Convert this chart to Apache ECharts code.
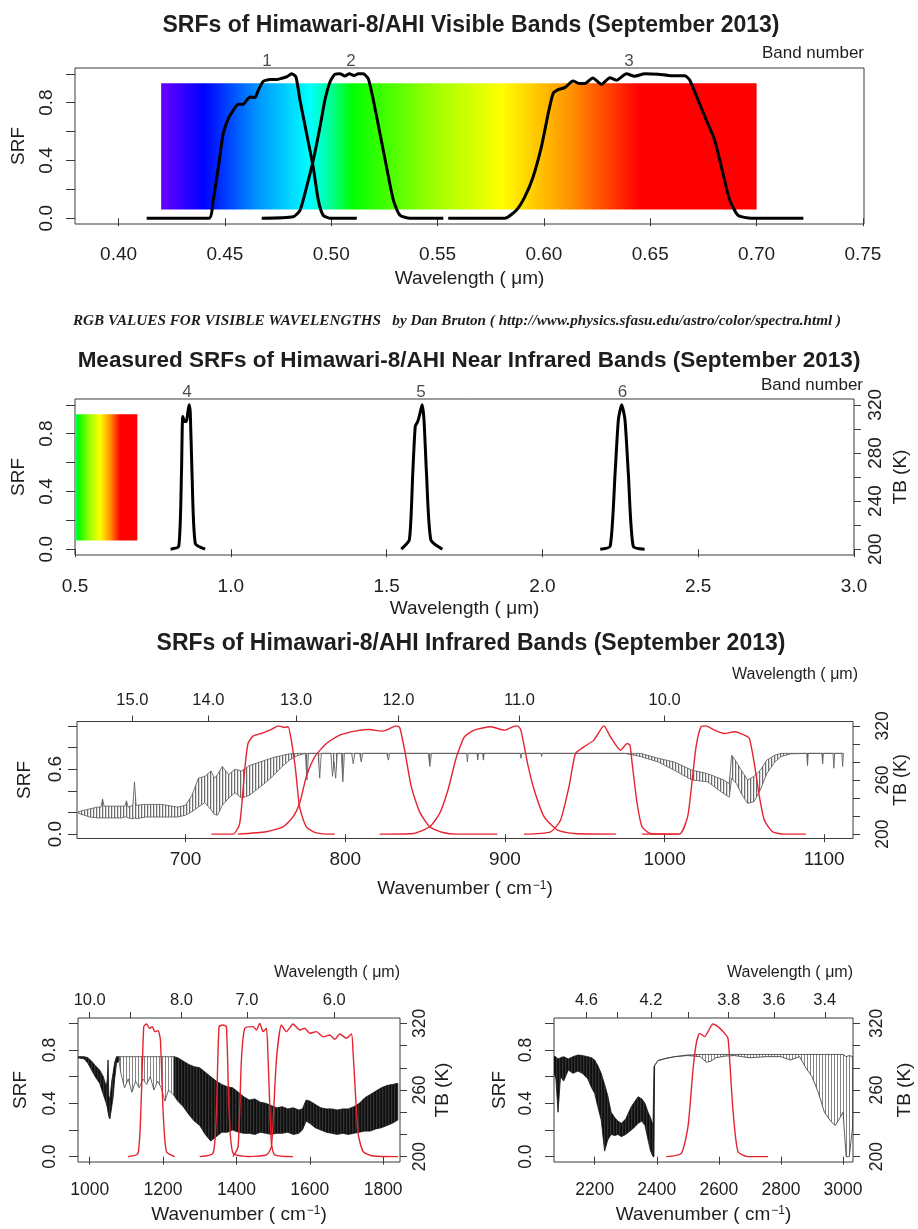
<!DOCTYPE html>
<html>
<head>
<meta charset="utf-8">
<title>SRFs of Himawari-8/AHI</title>
<script src="https://cdn.jsdelivr.net/npm/echarts@6/dist/echarts.min.js"></script>
<style>
  html, body { margin: 0; padding: 0; background: #fff; }
  #chart { width: 918px; height: 1229px; }
</style>
</head>
<body>
<div id="chart"></div>
<script>
// visible bands 1-3: wavelength (um) and SRF
const band1Wl = [0.4132, 0.4425, 0.4445, 0.4469, 0.4492, 0.4516, 0.4539, 0.4563, 0.4586, 0.4602, 0.4618, 0.4641, 0.4657, 0.468, 0.4712, 0.4743, 0.4767, 0.479, 0.4814, 0.4834, 0.4853, 0.4884, 0.4915, 0.4939, 0.4962, 0.4994, 0.512];
const band1Srf = [0, 0, 0.125, 0.355, 0.586, 0.69, 0.747, 0.789, 0.789, 0.817, 0.84, 0.835, 0.886, 0.948, 0.96, 0.96, 0.969, 0.978, 1.0, 0.978, 0.817, 0.586, 0.355, 0.125, 0.02, 0, 0];
const band2Wl = [0.4673, 0.4821, 0.4853, 0.4884, 0.4915, 0.4947, 0.497, 0.4994, 0.5017, 0.5041, 0.5064, 0.5085, 0.5107, 0.5127, 0.515, 0.5174, 0.5198, 0.5229, 0.526, 0.5292, 0.5323, 0.537, 0.5527];
const band2Srf = [0, 0.01, 0.055, 0.217, 0.40, 0.632, 0.817, 0.943, 0.997, 1.0, 0.985, 1.0, 0.987, 1.0, 1.0, 0.965, 0.817, 0.586, 0.355, 0.125, 0.02, 0, 0];
const band3Wl = [0.555, 0.5816, 0.587, 0.591, 0.5949, 0.5988, 0.602, 0.6043, 0.6067, 0.6098, 0.6137, 0.6168, 0.6192, 0.623, 0.627, 0.631, 0.634, 0.6388, 0.6427, 0.6474, 0.6537, 0.6599, 0.6662, 0.6686, 0.6725, 0.6764, 0.6803, 0.6842, 0.6874, 0.6913, 0.6975, 0.722];
const band3Srf = [0, 0, 0.055, 0.148, 0.286, 0.494, 0.724, 0.863, 0.89, 0.904, 0.95, 0.932, 0.932, 0.971, 0.927, 0.973, 0.955, 1.0, 0.983, 1.0, 0.997, 0.987, 0.987, 0.955, 0.817, 0.678, 0.54, 0.309, 0.125, 0.02, 0, 0];

// near infrared bands 4-6
const band4Wl = [0.8068, 0.833, 0.8417, 0.8458, 0.852, 0.8575, 0.8617, 0.866, 0.870, 0.8755, 0.886, 0.9178];
const band4Srf = [0, 0.02, 0.527, 0.919, 0.885, 0.885, 0.942, 1.0, 0.942, 0.527, 0.04, 0];
const band5Wl = [1.547, 1.573, 1.584, 1.592, 1.600, 1.607, 1.614, 1.620, 1.628, 1.642, 1.679];
const band5Srf = [0, 0.065, 0.527, 0.85, 0.885, 0.94, 1.0, 0.896, 0.527, 0.065, 0];
const band6Wl = [2.1857, 2.2175, 2.2333, 2.2438, 2.2545, 2.265, 2.2757, 2.2915, 2.328];
const band6Srf = [0, 0.02, 0.527, 0.896, 1.0, 0.896, 0.527, 0.02, 0];

// infrared bands 12-16 (wavenumber cm-1)
const band16Wn = [716.2, 729.7, 733.9, 737, 739.1, 742.2, 748.5, 754.7, 757.9, 762.1, 764.2, 766.2, 768.9, 771.4, 775.6, 781.9, 792.3, 793.4];
const band16Srf = [0, 0, 0.098, 0.591, 0.837, 0.905, 0.935, 0.975, 1.0, 0.985, 0.991, 0.868, 0.591, 0.252, 0.068, 0.012, 0, 0];
const band15Wn = [732.8, 750.6, 761, 767.3, 771.4, 775.6, 780.9, 788.2, 796.5, 807, 815.3, 822.6, 825.7, 832, 834.1, 837.2, 841.4, 846.6, 852.9, 861.2, 869.6, 895.2];
const band15Srf = [0, 0.022, 0.068, 0.16, 0.283, 0.529, 0.714, 0.837, 0.914, 0.954, 0.966, 0.951, 0.96, 1.0, 0.985, 0.775, 0.437, 0.206, 0.068, 0.015, 0, 0];
const band14Wn = [821.5, 842.4, 852.9, 859.1, 864.3, 868.5, 870.4, 874.6, 880.8, 891.2, 899.6, 904.8, 907.9, 910, 914.2, 918.4, 924.6, 933, 943.4, 969.5];
const band14Srf = [0, 0.006, 0.068, 0.191, 0.406, 0.652, 0.745, 0.898, 0.96, 0.991, 0.96, 0.991, 1.0, 0.96, 0.652, 0.406, 0.16, 0.037, 0.006, 0];
const band13Wn = [911.9, 928.6, 934.8, 940.1, 944.2, 949.5, 955.7, 962, 966.1, 972.4, 976.6, 978.3, 979.7, 982.8, 985.9, 991.1, 1009.2];
const band13Srf = [0, 0.022, 0.129, 0.437, 0.745, 0.806, 0.868, 1.0, 0.898, 0.775, 0.837, 0.822, 0.652, 0.283, 0.068, 0.006, 0];
const band12Wn = [985.9, 1009.2, 1014.4, 1016.6, 1019.7, 1022.8, 1026, 1031.2, 1037.5, 1043.7, 1050, 1053.1, 1056.2, 1059.4, 1062.5, 1067.6, 1074.9, 1088.5];
const band12Srf = [0, 0, 0.16, 0.406, 0.806, 0.991, 1.0, 0.96, 0.929, 0.945, 0.914, 0.883, 0.652, 0.345, 0.129, 0.022, 0, 0];

// bands 8-11
const band11Wn = [1104.5, 1131.8, 1141, 1147.3, 1154.5, 1163.6, 1170.9, 1177.1, 1186.3, 1192.7, 1199.9, 1209, 1231.8];
const band11Srf = [0, 0.025, 0.475, 0.975, 0.995, 0.963, 0.975, 0.938, 0.945, 0.875, 0.35, 0.038, 0];
const band10Wn = [1300, 1336.3, 1345.5, 1352.6, 1363.5, 1372.7, 1379.9, 1390.8, 1436.3];
const band10Srf = [0, 0.025, 0.35, 0.975, 0.988, 0.975, 0.35, 0.025, 0];
const band9Wn = [1390.8, 1404.5, 1413.6, 1422.7, 1445.4, 1454.5, 1463.6, 1472.7, 1481.8, 1486.4, 1495.4, 1504.5, 1554.5];
const band9Srf = [0, 0.075, 0.725, 0.963, 0.975, 0.95, 1.0, 0.938, 0.963, 0.725, 0.1, 0.013, 0];
const band8Wn = [1427.3, 1481.8, 1495.4, 1509, 1522.7, 1536.4, 1554.5, 1572.7, 1586.4, 1600, 1618.2, 1636.4, 1654.5, 1668.2, 1681.8, 1700, 1713.6, 1718.2, 1731.8, 1745.5, 1772.7, 1840.9];
const band8Srf = [0, 0.013, 0.075, 0.725, 0.988, 0.938, 0.995, 0.95, 0.963, 0.925, 0.938, 0.9, 0.913, 0.88, 0.92, 0.888, 0.92, 0.775, 0.175, 0.038, 0.005, 0];

// band 7
const band7Wn = [2430.6, 2478.9, 2500.5, 2516.6, 2527.2, 2538.2, 2554.3, 2565, 2581, 2597.1, 2618.7, 2629.3, 2634.8, 2645.4, 2661.5, 2693.7, 2758.1];
const band7Srf = [0, 0.025, 0.225, 0.65, 0.85, 0.925, 0.9, 0.938, 0.995, 0.975, 0.925, 0.888, 0.725, 0.35, 0.038, 0, 0];

// TB spectra: [wavenumber, upper TB, lower TB] (K)
const lwirSpectrum = [
  [633, 225, 223], [640, 228, 219], [645, 230, 218], [647, 230, 218], [648, 239, 218], [649, 231, 218],
  [660, 231, 218], [662, 231, 219], [663, 237, 219], [664, 230, 218], [667, 232, 217], [668, 258, 218],
  [669, 232, 217], [675, 233, 219], [685, 233, 219], [695, 230, 219], [700, 232, 221], [704, 243, 225],
  [708, 262, 230], [712, 264, 235], [716, 270, 227], [718, 262, 222], [720, 266, 221], [723, 275, 232],
  [727, 266, 240], [731, 272, 246], [735, 270, 240], [740, 276, 243], [745, 279, 250], [750, 282, 257],
  [755, 285, 265], [760, 287, 274], [765, 289, 282], [770, 289.5, 287], [775, 289.5, 289.5], [776, 289.5, 260],
  [777, 289.5, 289.5], [783, 289.5, 289.5], [784, 289.5, 262], [785, 289.5, 289.5], [791, 289.5, 289.5],
  [792, 289.5, 264], [793, 289.5, 280], [794, 289.5, 262], [795, 289.5, 289.5], [797.5, 289.5, 289.5],
  [798.5, 289.5, 258], [799.5, 289.5, 289.5], [804, 289.5, 289.5], [805, 289.5, 278], [806, 289.5, 289.5],
  [809, 289.5, 289.5], [810, 289.5, 280], [811, 289.5, 289.5], [826, 289.5, 289.5], [827, 289.5, 282],
  [828, 289.5, 289.5], [852, 289.5, 289.5], [853, 289.5, 275], [854, 289.5, 289.5], [876, 289.5, 289.5],
  [876.5, 289.5, 280], [877, 289.5, 289.5], [882.5, 289.5, 289.5], [883, 289.5, 282], [883.5, 289.5, 289.5],
  [886, 289.5, 289.5], [886.5, 289.5, 282], [887, 289.5, 289.5], [909.5, 289.5, 289.5], [910, 289.5, 284],
  [910.5, 289.5, 289.5], [922.5, 289.5, 289.5], [923, 289.5, 286], [923.5, 289.5, 289.5], [975, 289.5, 289.5],
  [985, 289.5, 286], [996, 284, 280], [1006, 280, 271], [1017, 271, 260], [1027, 267, 258], [1037, 260, 245],
  [1040.5, 256, 241], [1042, 287.5, 262], [1045, 280, 256], [1048, 271, 245], [1052, 260, 234], [1056, 264, 236],
  [1060, 271, 249], [1064, 282, 267], [1069, 287.5, 280], [1073, 289.5, 286], [1079, 289.5, 289], [1089, 289.5, 289.5],
  [1089.5, 289.5, 276], [1090, 289.5, 289.5], [1098.5, 289.5, 289.5], [1099, 289.5, 278], [1099.5, 289.5, 289.5],
  [1105.5, 289.5, 289.5], [1106, 289.5, 273], [1106.5, 289.5, 289.5], [1111, 289.5, 289.5], [1111.5, 289.5, 275],
  [1112, 289.5, 289.5]
];
const mwirOzone = [
  [968, 290, 289], [985, 290, 288], [995, 289, 284], [1005, 286, 278], [1015, 282, 272], [1027, 278, 266],
  [1037, 272, 256], [1045, 263, 248], [1048, 270, 244], [1050, 287, 240], [1052, 255, 236], [1055, 251, 234],
  [1060, 268, 245], [1064, 276, 254], [1068, 285, 270], [1073, 290, 284], [1080, 290, 286]
];
const mwirWindow = [
  [1080, 290, 286], [1085, 290, 275], [1095, 290, 262], [1105, 290, 270], [1115, 290, 258], [1125, 290, 268],
  [1135, 290, 262], [1145, 290, 270], [1155, 290, 265], [1165, 290, 272], [1175, 290, 260], [1185, 290, 268],
  [1195, 290, 262], [1205, 290, 250], [1215, 290, 260], [1230, 290, 255]
];
const mwirWater = [
  [1230, 290, 255], [1240, 289, 250], [1255, 286, 245], [1270, 283, 238], [1285, 281, 232],
  [1300, 280, 228], [1315, 276, 220], [1330, 272, 214], [1345, 268, 218], [1360, 265, 222], [1375, 263, 222],
  [1390, 262, 224], [1405, 258, 222], [1420, 254, 221], [1435, 251, 221], [1450, 252, 220], [1465, 249, 222],
  [1480, 248, 221], [1495, 246, 220], [1510, 244, 221], [1525, 245, 221], [1540, 243, 222], [1555, 244, 220],
  [1570, 242, 221], [1580, 243, 224], [1590, 251, 232], [1600, 250, 230], [1615, 247, 226], [1630, 244, 224],
  [1645, 243, 222], [1660, 243, 221], [1675, 242, 220], [1690, 243, 221], [1705, 243, 220], [1720, 245, 221],
  [1735, 248, 222], [1750, 253, 223], [1765, 256, 223], [1780, 259, 225], [1795, 262, 226], [1810, 264, 228],
  [1825, 265, 230], [1840, 266, 233]
];
const swirCo2 = [
  [2069, 290, 275], [2075, 290, 270], [2082, 288, 240], [2090, 289, 272], [2100, 290, 268], [2115, 288, 278],
  [2130, 290, 275], [2146, 291.5, 277], [2160, 291, 275], [2178, 290, 270], [2190, 289, 262], [2200, 287, 257],
  [2210, 282, 245], [2221, 275, 233], [2232, 265, 205], [2242, 255, 215], [2253, 240, 220], [2265, 235, 219],
  [2275, 232, 220], [2286, 230, 218], [2300, 234, 220], [2318, 245, 224], [2330, 250, 227], [2340, 254, 230],
  [2352, 252, 232], [2362, 248, 228], [2372, 240, 215], [2380, 235, 205], [2388, 228, 200], [2391, 281, 200],
  [2393, 282, 282]
];
const swirWindow = [
  [2393, 282, 282], [2404, 286.5, 286.5], [2430, 288.5, 288.5], [2458, 290, 290], [2500, 291.5, 291],
  [2540, 292, 290], [2560, 292, 285], [2575, 292, 286], [2590, 292, 289], [2620, 292, 290.5], [2650, 292, 291],
  [2700, 292, 289], [2750, 292, 290], [2800, 292, 290], [2830, 292, 287], [2860, 292, 290], [2880, 292, 280],
  [2900, 292, 272], [2920, 292, 258], [2940, 292, 240], [2960, 292, 232], [2975, 292, 228], [2990, 292, 235],
  [3000, 292, 240], [3010, 290, 200], [3020, 291, 200], [3032, 290, 230]
];

// band number labels
const visBandNames = ['1', '2', '3'];
const visBandX = [0.4698, 0.5093, 0.64];
const nirBandNames = ['4', '5', '6'];
const nirBandX = [0.8595, 1.61, 2.2566];

// colour bar (Dan Bruton wavelength -> RGB)
const specWl = [0.42, 0.44, 0.465, 0.49, 0.50, 0.51, 0.545, 0.58, 0.6125, 0.645, 0.70];
const specColor = ['#6a00ff', '#0000ff', '#0092ff', '#00ffff', '#00ff92', '#00ff00', '#92ff00', '#ffff00', '#ff9200', '#ff0000', '#ff0000'];
const visBarX = [0.42, 0.70];
const nirBarX = [0.5, 0.70];
const barSrf = [0.06, 0.935];

// ticks and labels
const visTicks = [0.40, 0.45, 0.50, 0.55, 0.60, 0.65, 0.70, 0.75];
const nirTicks = [0.5, 1.0, 1.5, 2.0, 2.5, 3.0];
const lwirTicks = [700, 800, 900, 1000, 1100];
const mwirTicks = [1000, 1200, 1400, 1600, 1800];
const swirTicks = [2200, 2400, 2600, 2800, 3000];
const lwirWlTicks = [15, 14, 13, 12, 11, 10];
const mwirWlTicks = [10, 9, 8, 7, 6];
const mwirWlLabels = [10, 8, 7, 6];
const swirWlTicks = [4.6, 4.4, 4.2, 4.0, 3.8, 3.6, 3.4];
const swirWlLabels = [4.6, 4.2, 3.8, 3.6, 3.4];
const srfTicks = [0, 0.2, 0.4, 0.6, 0.8, 1.0];
const srfLabels = [0, 0.4, 0.8];
const srfLabelsLwir = [0, 0.6];
const tbTicks = [200, 220, 240, 260, 280, 300, 320];
const tbLabelsNir = [200, 240, 280, 320];
const tbLabels = [200, 260, 320];

const AX = '#3a3a3a';
const TXT = '#1e1e1e';
const RED = '#e5232f';
const FONT = '"Liberation Sans", Arial, sans-serif';

const zip = (xs, ys) => xs.map((x, i) => [x, ys[i]]);
const font = (size, weight) => ({fontSize: size, fontWeight: weight || 'normal', fontFamily: FONT, color: TXT});

function hexToRgb(h) {
  const n = parseInt(h.slice(1), 16);
  return [n >> 16, (n >> 8) & 255, n & 255];
}
function colorAt(w) {
  let i = 0;
  while (i < specWl.length - 2 && w > specWl[i + 1]) i++;
  const t = Math.min(1, Math.max(0, (w - specWl[i]) / (specWl[i + 1] - specWl[i])));
  const a = hexToRgb(specColor[i]), b = hexToRgb(specColor[i + 1]);
  return 'rgb(' + a.map((v, k) => Math.round(v + (b[k] - v) * t)).join(',') + ')';
}
function spectrumGradient(x0, x1) {
  const stops = [{offset: 0, color: colorAt(x0)}];
  specWl.forEach((w, i) => {
    if (w > x0 && w < x1) stops.push({offset: (w - x0) / (x1 - x0), color: specColor[i]});
  });
  stops.push({offset: 1, color: colorAt(x1)});
  return new echarts.graphic.LinearGradient(0, 0, 1, 0, stops);
}

// vertical-line pattern so the filled band reads like a dense line spectrum
function stripes(cols) {
  const c = document.createElement('canvas');
  c.width = cols.length; c.height = 4;
  const ctx = c.getContext('2d');
  cols.forEach((col, i) => { ctx.fillStyle = col; ctx.fillRect(i, 0, 1, 4); });
  return {image: c, repeat: 'repeat'};
}
const combFill = stripes(['rgba(70,70,70,0.8)', 'rgba(70,70,70,0.2)', 'rgba(0,0,0,0)']);
const denseFill = stripes(['rgba(5,5,5,0.97)', 'rgba(5,5,5,0.82)', 'rgba(5,5,5,0.92)']);
const sparseFill = stripes(['rgba(80,80,80,0.7)', 'rgba(0,0,0,0)', 'rgba(0,0,0,0)']);

const grids = [], xAxes = [], yAxes = [], series = [];
const SRF_MIN = -0.04, SRF_MAX = 1.04, TB_MIN = 195.2, TB_MAX = 324.8;

// one plot box with its axes, returns axis indices
function addPanel(p) {
  const g = grids.length;
  grids.push({left: p.box[0], top: p.box[1], width: p.box[2], height: p.box[3],
    show: true, borderColor: AX, borderWidth: 1, backgroundColor: 'transparent'});
  const common = {gridIndex: g, type: 'value', axisLine: {show: false}, splitLine: {show: false},
    nameMoveOverlap: false};
  const res = {x: xAxes.length, y: yAxes.length};

  xAxes.push(Object.assign({}, common, {
    position: 'bottom', min: p.x[0], max: p.x[1],
    axisTick: {length: 8, customValues: p.xTicks, lineStyle: {color: AX}},
    axisLabel: Object.assign(font(p.fs), {customValues: p.xTicks, margin: p.xMargin,
      formatter: v => v.toFixed(p.xDigits)}),
    name: p.xName, nameLocation: 'middle', nameGap: p.xNameGap,
    nameTextStyle: Object.assign(font(19), {rich: {sup: Object.assign(font(12), {verticalAlign: 'top', padding: [0, 0, 0, 1]})}})
  }));
  if (p.wlTicks) {
    xAxes.push(Object.assign({}, common, {
      position: 'top', min: p.x[0], max: p.x[1],
      axisTick: {length: 6, customValues: p.wlTicks.map(l => 1e4 / l), lineStyle: {color: AX}},
      axisLabel: Object.assign(font(16.5), {customValues: p.wlLabels.map(l => 1e4 / l), margin: p.wlMargin,
        formatter: v => (1e4 / v).toFixed(1)})
    }));
  }
  yAxes.push(Object.assign({}, common, {
    position: 'left', min: SRF_MIN, max: SRF_MAX,
    axisTick: {length: 9, customValues: srfTicks, lineStyle: {color: AX}},
    axisLabel: Object.assign(font(p.fs), {customValues: p.srfLabels, rotate: 90, margin: p.yMargin,
      formatter: v => v.toFixed(1)}),
    name: 'SRF', nameLocation: 'middle', nameRotate: 90, nameGap: p.yNameGap, nameTextStyle: font(19)
  }));
  if (p.tbLabels) {
    res.tb = yAxes.length;
    yAxes.push(Object.assign({}, common, {
      position: 'right', min: TB_MIN, max: TB_MAX,
      axisTick: {length: 7, customValues: tbTicks, lineStyle: {color: AX}},
      axisLabel: Object.assign(font(p.tbFs || p.fs), {customValues: p.tbLabels, rotate: 90, margin: p.tbMargin,
        formatter: v => String(Math.round(v))}),
      name: 'TB (K)', nameLocation: 'middle', nameRotate: 90, nameGap: p.tbNameGap, nameTextStyle: font(p.tbNameFs || 19)
    }));
  }
  return res;
}

const WN_NAME = 'Wavenumber ( cm{sup|\u22121})';
const WL_NAME = 'Wavelength ( \u03bcm)';

const pVis = addPanel({box: [75, 68, 789, 156], x: [0.3795, 0.7505], xTicks: visTicks, xDigits: 2, fs: 19,
  xMargin: 21, xName: WL_NAME, xNameGap: 45, srfLabels: srfLabels, yMargin: 19, yNameGap: 47});
const pNir = addPanel({box: [75, 399, 788, 156], x: [0.5, 3.0], xTicks: nirTicks, xDigits: 1, fs: 19,
  xMargin: 22, xName: WL_NAME, xNameGap: 44, srfLabels: srfLabels, yMargin: 19, yNameGap: 47,
  tbLabels: tbLabelsNir, tbMargin: 12, tbNameGap: 37});
const pLw = addPanel({box: [77, 721.5, 776, 117], x: [632, 1118], xTicks: lwirTicks, xDigits: 0, fs: 19,
  xMargin: 12, xName: WN_NAME, xNameGap: 41, srfLabels: srfLabelsLwir, yMargin: 12, yNameGap: 43,
  tbLabels: tbLabels, tbFs: 17.5, tbMargin: 21, tbNameGap: 39, tbNameFs: 18,
  wlTicks: lwirWlTicks, wlLabels: lwirWlTicks, wlMargin: 13});
const pMw = addPanel({box: [78, 1018, 322, 144], x: [968, 1846], xTicks: mwirTicks, xDigits: 0, fs: 17.5,
  xMargin: 19, xName: WN_NAME, xNameGap: 43, srfLabels: srfLabels, yMargin: 19, yNameGap: 48,
  tbLabels: tbLabels, tbMargin: 11, tbNameGap: 33, wlTicks: mwirWlTicks, wlLabels: mwirWlLabels, wlMargin: 9});
const pSw = addPanel({box: [554, 1018, 299, 144], x: [2069, 3032], xTicks: swirTicks, xDigits: 0, fs: 17.5,
  xMargin: 19, xName: WN_NAME, xNameGap: 43, srfLabels: srfLabels, yMargin: 19, yNameGap: 45,
  tbLabels: tbLabels, tbMargin: 15, tbNameGap: 42, wlTicks: swirWlTicks, wlLabels: swirWlLabels, wlMargin: 9});

// colour bars
function colourBar(p, xr) {
  series.push({type: 'line', xAxisIndex: p.x, yAxisIndex: p.y, data: [], silent: true,
    markArea: {silent: true, label: {show: false},
      itemStyle: {color: spectrumGradient(xr[0], xr[1]), opacity: 1, borderWidth: 0},
      data: [[{coord: [xr[0], barSrf[0]]}, {coord: [xr[1], barSrf[1]]}]]}});
}
colourBar(pVis, visBarX);
colourBar(pNir, nirBarX);

// TB spectra: band between upper and lower envelope, one polygon
function spectrum(p, rows, line, fill) {
  series.push({type: 'custom', xAxisIndex: p.x, yAxisIndex: p.tb, clip: true, silent: true,
    data: rows, encode: {x: 0, y: [1, 2]},
    renderItem: (params, api) => {
      if (params.dataIndex !== 0) return null;
      const upper = rows.map(r => api.coord([r[0], r[1]]));
      const lower = rows.slice().reverse().map(r => api.coord([r[0], r[2]]));
      return {type: 'polygon', shape: {points: upper.concat(lower)},
        style: {fill: fill, stroke: line, lineWidth: 0.8, lineJoin: 'round'}};
    }});
}
spectrum(pLw, lwirSpectrum, '#555', combFill);
spectrum(pMw, mwirOzone, '#111', denseFill);
spectrum(pMw, mwirWindow, '#444', sparseFill);
spectrum(pMw, mwirWater, '#111', denseFill);
spectrum(pSw, swirCo2, '#111', denseFill);
spectrum(pSw, swirWindow, '#333', sparseFill);

function srfLine(p, xs, ys, color, width) {
  series.push({type: 'line', xAxisIndex: p.x, yAxisIndex: p.y, data: zip(xs, ys), symbol: 'none',
    smooth: 0.2, silent: true, lineStyle: {color: color, width: width}});
}
srfLine(pVis, band1Wl, band1Srf, '#000', 3);
srfLine(pVis, band2Wl, band2Srf, '#000', 3);
srfLine(pVis, band3Wl, band3Srf, '#000', 3);
srfLine(pNir, band4Wl, band4Srf, '#000', 3);
srfLine(pNir, band5Wl, band5Srf, '#000', 3);
srfLine(pNir, band6Wl, band6Srf, '#000', 3);
srfLine(pLw, band16Wn, band16Srf, RED, 1.4);
srfLine(pLw, band15Wn, band15Srf, RED, 1.4);
srfLine(pLw, band14Wn, band14Srf, RED, 1.4);
srfLine(pLw, band13Wn, band13Srf, RED, 1.4);
srfLine(pLw, band12Wn, band12Srf, RED, 1.4);
srfLine(pMw, band11Wn, band11Srf, RED, 1.4);
srfLine(pMw, band10Wn, band10Srf, RED, 1.4);
srfLine(pMw, band9Wn, band9Srf, RED, 1.4);
srfLine(pMw, band8Wn, band8Srf, RED, 1.4);
srfLine(pSw, band7Wn, band7Srf, RED, 1.4);

// band numbers above the boxes
function bandNames(p, names, xs) {
  series.push({type: 'scatter', xAxisIndex: p.x, yAxisIndex: p.y, symbolSize: 0, clip: false, silent: true,
    data: names.map((n, i) => ({name: n, value: [xs[i], SRF_MAX]})),
    label: Object.assign(font(17), {show: true, position: 'top', distance: -2, formatter: '{b}'})});
}
bandNames(pVis, visBandNames, visBandX);
bandNames(pNir, nirBandNames, nirBandX);

const text = (x, y, str, f, align) => ({type: 'text', x: x, y: y, silent: true,
  style: {text: str, font: f, fill: TXT, align: align || 'center', verticalAlign: 'middle'}});
const SANS = '"Liberation Sans", Arial, sans-serif';

const chart = echarts.init(document.getElementById('chart'));
chart.setOption({
  animation: false,
  grid: grids,
  xAxis: xAxes,
  yAxis: yAxes,
  series: series,
  graphic: [
    text(471, 25.5, 'SRFs of Himawari-8/AHI Visible Bands (September 2013)', 'bold 23px ' + SANS),
    text(864, 53, 'Band number', '17px ' + SANS, 'right'),
    text(457, 321, 'RGB VALUES FOR VISIBLE WAVELENGTHS   by Dan Bruton ( http://www.physics.sfasu.edu/astro/color/spectra.html )',
      'italic bold 15.2px "Liberation Serif", "Times New Roman", serif'),
    text(469, 361, 'Measured SRFs of Himawari-8/AHI Near Infrared Bands (September 2013)', 'bold 22.5px ' + SANS),
    text(863, 385, 'Band number', '17px ' + SANS, 'right'),
    text(471, 643.5, 'SRFs of Himawari-8/AHI Infrared Bands (September 2013)', 'bold 23px ' + SANS),
    text(858, 675, WL_NAME, '16px ' + SANS, 'right'),
    text(400, 973, WL_NAME, '16px ' + SANS, 'right'),
    text(853, 973, WL_NAME, '16px ' + SANS, 'right')
  ]
});
</script>
</body>
</html>
